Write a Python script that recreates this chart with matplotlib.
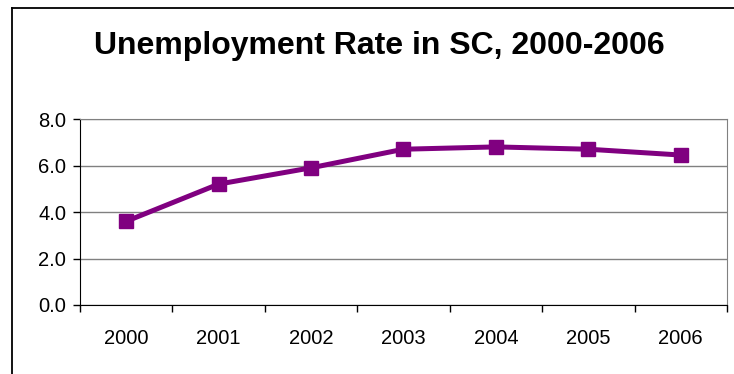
import matplotlib.pyplot as plt
from matplotlib.lines import Line2D
import numpy as np

years = ['2000', '2001', '2002', '2003', '2004', '2005', '2006']
rates = [3.6, 5.2, 5.9, 6.7, 6.8, 6.7, 6.45]

plt.rcParams['font.family'] = ['Liberation Sans', 'DejaVu Sans']

fig = plt.figure(figsize=(7.34, 3.74), dpi=100)
# outer chart border (only left and top edges fall inside the crop)
bx, by = 11.5 / 734, 1 - 8 / 374
fig.add_artist(Line2D([bx, bx], [0, by], transform=fig.transFigure,
                      color='#000000', linewidth=1.3))
fig.add_artist(Line2D([bx, 1.0], [by, by], transform=fig.transFigure,
                      color='#000000', linewidth=1.3))

ax = fig.add_axes([80 / 734, 69 / 374, 647 / 734, 186 / 374])
x = np.arange(len(years))
ax.plot(x, rates, color='#800080', linewidth=3.6, marker='s', markersize=10,
        zorder=5)

ax.set_xlim(-0.5, len(years) - 0.5)
ax.set_ylim(0, 8)
yt = np.arange(0, 8.1, 2)
ax.set_yticks(yt)
ax.set_yticklabels(['%.1f' % v for v in yt], fontsize=14.5)
ax.set_xticks(x)
ax.set_xticklabels(years, fontsize=14.5)
ax.set_xticks(np.arange(-0.5, len(years), 1), minor=True)
ax.tick_params(axis='x', which='major', length=0, pad=17)
ax.tick_params(axis='x', which='minor', length=5, width=1, direction='out')
ax.tick_params(axis='y', length=5, width=1, direction='out', pad=5)

ax.grid(True, axis='y', color='#808080', linewidth=1, zorder=0)
for s in ['top', 'right']:
    ax.spines[s].set_color('#808080')
for s in ['left', 'bottom']:
    ax.spines[s].set_color('#000000')

fig.text(379 / 734, 1 - 46 / 374, 'Unemployment Rate in SC, 2000-2006',
         ha='center', va='center', fontsize=23, fontweight='bold')

fig.savefig('out.png', dpi=100)
